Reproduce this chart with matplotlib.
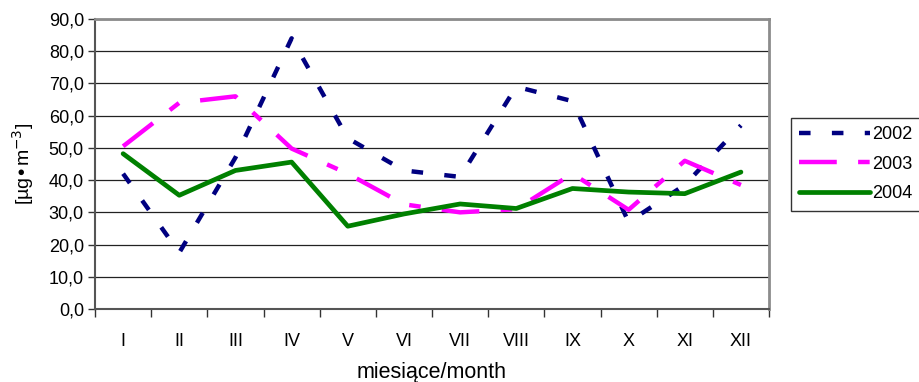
import matplotlib.pyplot as plt

plt.rcParams['font.family'] = ['Liberation Sans', 'DejaVu Sans']

# --dane--
months = ['I', 'II', 'III', 'IV', 'V', 'VI', 'VII', 'VIII', 'IX', 'X', 'XI', 'XII']
y2002 = [42.0, 17.5, 47.0, 84.0, 53.0, 43.0, 41.0, 69.0, 64.5, 27.0, 38.5, 57.0]
y2003 = [50.5, 64.0, 66.0, 49.8, 42.0, 32.5, 30.0, 31.0, 42.0, 30.8, 46.0, 38.5]
y2004 = [48.2, 35.3, 43.0, 45.6, 25.7, 29.5, 32.6, 31.2, 37.4, 36.3, 35.8, 42.5]
yticks = [0, 10, 20, 30, 40, 50, 60, 70, 80, 90]

fig = plt.figure(figsize=(9.19, 3.82), dpi=100)
ax = fig.add_axes([0.1034, 0.191, 0.7334, 0.7593])

x = list(range(len(months)))
l1, = ax.plot(x, y2002, color='#000080', lw=3.2, label='2002')
l1.set_dashes((2.6, 4.8))
l2, = ax.plot(x, y2003, color='#FF00FF', lw=3.2, label='2003')
l2.set_dashes((8.5, 4.8, 2.6, 4.8))
ax.plot(x, y2004, color='#008000', lw=3.4, label='2004', solid_capstyle='round')

ax.set_xlim(-0.5, len(months) - 0.5)
ax.set_ylim(0, 90)
ax.set_yticks(yticks)
ax.set_yticklabels([f'{v:.1f}'.replace('.', ',') for v in yticks], fontsize=13)
ax.set_xticks(x)
ax.set_xticklabels(months, fontsize=13)
ax.tick_params(axis='x', length=0, pad=17)
ax.set_xticks([i - 0.5 for i in range(len(months) + 1)], minor=True)
ax.tick_params(axis='x', which='minor', length=6, width=1, color='#333333')
ax.tick_params(axis='y', length=5, width=1, color='#333333', pad=3)

for v in yticks[1:]:
    ax.axhline(v, color='#222222', lw=0.9, zorder=0)

for s in ['top', 'right']:
    ax.spines[s].set_color('#8c8c8c')
    ax.spines[s].set_linewidth(2)
for s in ['left', 'bottom']:
    ax.spines[s].set_color('#555555')
    ax.spines[s].set_linewidth(1.5)

ax.set_xlabel('miesiące/month', fontsize=15.5, labelpad=9)
ax.set_ylabel('[µg•m$^{-3}$]', fontsize=14, labelpad=9)

leg = fig.legend(loc='upper left', bbox_to_anchor=(791 / 919, 1 - 118 / 382),
                 fontsize=13, frameon=True, fancybox=False, edgecolor='black',
                 handlelength=3.9, handletextpad=0.15, borderaxespad=0,
                 borderpad=0.45, labelspacing=0.7)
leg.get_frame().set_linewidth(1)

fig.savefig('out.png', dpi=100)
